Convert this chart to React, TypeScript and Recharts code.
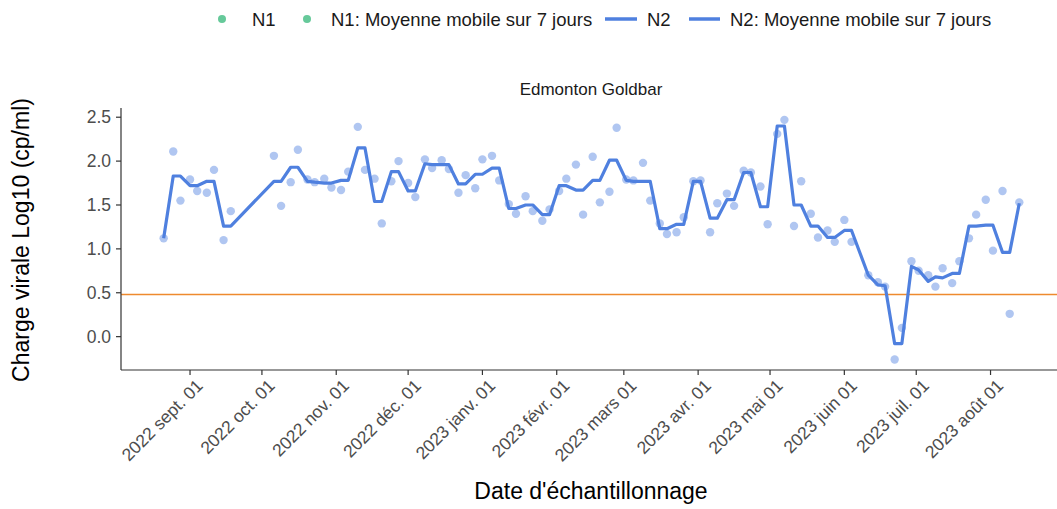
import React from "react";
import {
  ComposedChart,
  Line,
  Scatter,
  XAxis,
  YAxis,
  ReferenceLine,
} from "recharts";

// sample dates (N2, Edmonton Goldbar)
const sampleDates = [
  "2022-08-21", "2022-08-25", "2022-08-28", "2022-09-01", "2022-09-04", "2022-09-08", "2022-09-11", "2022-09-15", "2022-09-18",
  "2022-10-06", "2022-10-09", "2022-10-13", "2022-10-16", "2022-10-20", "2022-10-23", "2022-10-27", "2022-10-30",
  "2022-11-03", "2022-11-06", "2022-11-10", "2022-11-13", "2022-11-17", "2022-11-20", "2022-11-24", "2022-11-27",
  "2022-12-01", "2022-12-04", "2022-12-08", "2022-12-11", "2022-12-15", "2022-12-18", "2022-12-22", "2022-12-25", "2022-12-29",
  "2023-01-01", "2023-01-05", "2023-01-08", "2023-01-12", "2023-01-15", "2023-01-19", "2023-01-22", "2023-01-26", "2023-01-29",
  "2023-02-02", "2023-02-05", "2023-02-09", "2023-02-12", "2023-02-16", "2023-02-19", "2023-02-23", "2023-02-26",
  "2023-03-02", "2023-03-05", "2023-03-09", "2023-03-12", "2023-03-16", "2023-03-19", "2023-03-23", "2023-03-26", "2023-03-30",
  "2023-04-02", "2023-04-06", "2023-04-09", "2023-04-13", "2023-04-16", "2023-04-20", "2023-04-23", "2023-04-27", "2023-04-30",
  "2023-05-04", "2023-05-07", "2023-05-11", "2023-05-14", "2023-05-18", "2023-05-21", "2023-05-25", "2023-05-28",
  "2023-06-01", "2023-06-04", "2023-06-11", "2023-06-15", "2023-06-18", "2023-06-22", "2023-06-25", "2023-06-29",
  "2023-07-02", "2023-07-06", "2023-07-09", "2023-07-12", "2023-07-16", "2023-07-19", "2023-07-23", "2023-07-26", "2023-07-30",
  "2023-08-02", "2023-08-06", "2023-08-09", "2023-08-13",
];

const n2Values = [
  1.12, 2.11, 1.55, 1.79, 1.66, 1.64, 1.90, 1.10, 1.43,
  2.06, 1.49, 1.76, 2.13, 1.79, 1.76, 1.80, 1.70,
  1.67, 1.88, 2.39, 1.90, 1.80, 1.29, 1.77, 2.00,
  1.75, 1.59, 2.02, 1.92, 2.01, 1.91, 1.64, 1.84, 1.69,
  2.02, 2.06, 1.78, 1.51, 1.40, 1.60, 1.43, 1.32, 1.45,
  1.66, 1.80, 1.96, 1.39, 2.05, 1.53, 1.65, 2.38,
  1.79, 1.78, 1.98, 1.55, 1.29, 1.17, 1.19, 1.36, 1.77,
  1.78, 1.19, 1.52, 1.63, 1.49, 1.89, 1.87, 1.71, 1.28,
  2.31, 2.47, 1.26, 1.77, 1.40, 1.13, 1.21, 1.08,
  1.33, 1.08, 0.70, 0.62, 0.57, -0.26, 0.10, 0.86,
  0.75, 0.70, 0.57, 0.78, 0.61, 0.86, 1.12, 1.39, 1.56,
  0.98, 1.66, 0.26, 1.53,
];

const n2Avg = [
  1.12, 1.83, 1.83, 1.72, 1.72, 1.77, 1.77, 1.26, 1.26,
  1.77, 1.77, 1.93, 1.93, 1.77, 1.76, 1.75, 1.75,
  1.78, 1.78, 2.15, 2.15, 1.54, 1.54, 1.88, 1.88,
  1.66, 1.66, 1.97, 1.96, 1.96, 1.96, 1.74, 1.74, 1.85,
  1.85, 1.92, 1.92, 1.46, 1.46, 1.50, 1.50, 1.39, 1.39,
  1.72, 1.72, 1.67, 1.67, 1.78, 1.78, 2.01, 2.01,
  1.78, 1.77, 1.77, 1.77, 1.23, 1.23, 1.28, 1.28, 1.77,
  1.77, 1.35, 1.35, 1.56, 1.56, 1.87, 1.87, 1.48, 1.48,
  2.40, 2.40, 1.50, 1.50, 1.26, 1.26, 1.13, 1.13,
  1.21, 1.21, 0.70, 0.59, 0.58, -0.08, -0.08, 0.80,
  0.76, 0.63, 0.68, 0.67, 0.72, 0.72, 1.26, 1.26, 1.27,
  1.27, 0.96, 0.96, 1.52,
];

const threshold = 0.48;

const monthTicks = [
  "2022-09-01", "2022-10-01", "2022-11-01", "2022-12-01", "2023-01-01", "2023-02-01",
  "2023-03-01", "2023-04-01", "2023-05-01", "2023-06-01", "2023-07-01", "2023-08-01",
];
const monthLabels = [
  "2022 sept. 01", "2022 oct. 01", "2022 nov. 01", "2022 déc. 01", "2023 janv. 01", "2023 févr. 01",
  "2023 mars 01", "2023 avr. 01", "2023 mai 01", "2023 juin 01", "2023 juil. 01", "2023 août 01",
];
const yTicks = [0, 0.5, 1, 1.5, 2, 2.5];

const DAY = 86400000;
const origin = Date.parse("2022-09-01");
const xDomain = [origin - 28.8 * DAY, origin + 363.4 * DAY];

const BLUE = "#4f80df";
const GREEN = "#66c99a";
const ORANGE = "#ee8a2e";
const FONT = "'Liberation Sans', Arial, sans-serif";

const chartData = sampleDates.map((d, i) => ({
  t: Date.parse(d),
  n2: n2Values[i],
  avg: n2Avg[i],
}));

const tickTimes = monthTicks.map((d) => Date.parse(d));

function XTick(props: any) {
  const { x, y, payload } = props;
  const idx = tickTimes.indexOf(payload.value);
  return (
    <g transform={`translate(${x + 5},${y + 1})`}>
      <text
        transform="rotate(-45)"
        textAnchor="end"
        dy="0.72em"
        fill="#4d4d4d"
        fontSize={17.5}
        fontFamily={FONT}
      >
        {monthLabels[idx] ?? ""}
      </text>
    </g>
  );
}

function Dot(props: any) {
  const { cx, cy } = props;
  if (cx == null || cy == null) return null;
  return <circle cx={cx} cy={cy} r={4.2} fill={BLUE} fillOpacity={0.45} />;
}

export default function App() {
  return (
    <div
      style={{
        position: "absolute",
        left: 0,
        top: 0,
        width: 1057,
        height: 509,
        overflow: "hidden",
        background: "#fff",
        fontFamily: FONT,
      }}
    >
      {/* legend */}
      <svg width={1057} height={40} style={{ position: "absolute", left: 0, top: 0 }}>
        <circle cx={222} cy={19} r={4} fill={GREEN} />
        <text x={252} y={25.5} fontSize={18.5} fill="#1a1a1a" fontFamily={FONT}>N1</text>
        <circle cx={307} cy={19} r={4} fill={GREEN} />
        <text x={331} y={25.5} fontSize={18.5} fill="#1a1a1a" fontFamily={FONT}>N1: Moyenne mobile sur 7 jours</text>
        <line x1={605} x2={637} y1={19} y2={19} stroke={BLUE} strokeWidth={3.5} />
        <text x={647} y={25.5} fontSize={18.5} fill="#1a1a1a" fontFamily={FONT}>N2</text>
        <line x1={689} x2={720} y1={19} y2={19} stroke={BLUE} strokeWidth={3.5} />
        <text x={730} y={25.5} fontSize={18.5} fill="#1a1a1a" fontFamily={FONT}>N2: Moyenne mobile sur 7 jours</text>
      </svg>

      {/* facet strip */}
      <div
        style={{
          position: "absolute",
          left: 121,
          width: 940,
          top: 80,
          textAlign: "center",
          fontSize: 17,
          color: "#1a1a1a",
        }}
      >
        Edmonton Goldbar
      </div>

      {/* y title */}
      <div
        style={{
          position: "absolute",
          left: 21,
          top: 240,
          transform: "translate(-50%, -50%) rotate(-90deg)",
          whiteSpace: "nowrap",
          fontSize: 23,
          color: "#000",
        }}
      >
        Charge virale Log10 (cp/ml)
      </div>

      {/* x title */}
      <div
        style={{
          position: "absolute",
          left: 121,
          width: 940,
          top: 478,
          textAlign: "center",
          fontSize: 23,
          color: "#000",
        }}
      >
        Date d'échantillonnage
      </div>

      <div style={{ position: "absolute", left: 0, top: 0 }}>
        <ComposedChart
          width={1070}
          height={509}
          data={chartData}
          margin={{ top: 108, right: 9, bottom: 0, left: 0 }}
        >
          <XAxis
            dataKey="t"
            type="number"
            domain={xDomain}
            ticks={tickTimes}
            allowDataOverflow
            height={139}
            interval={0}
            tick={<XTick />}
            tickSize={5}
            axisLine={{ stroke: "#333", strokeWidth: 1.2 }}
            tickLine={{ stroke: "#333", strokeWidth: 1.2 }}
          />
          <XAxis
            xAxisId="top"
            orientation="top"
            dataKey="t"
            type="number"
            domain={xDomain}
            allowDataOverflow
            height={0}
            tick={false}
            tickLine={false}
            axisLine={{ stroke: "#8a8a8a", strokeWidth: 1 }}
          />
          <YAxis
            type="number"
            domain={[-0.38, 2.605]}
            ticks={yTicks}
            allowDataOverflow
            width={121}
            tickSize={5}
            tickMargin={5}
            tickFormatter={(v: number) => v.toFixed(1)}
            tick={{ fill: "#4d4d4d", fontSize: 17.5, fontFamily: FONT }}
            axisLine={{ stroke: "#333", strokeWidth: 1.2 }}
            tickLine={{ stroke: "#333", strokeWidth: 1.2 }}
          />
          <ReferenceLine y={threshold} stroke={ORANGE} strokeWidth={1.5} />
          <Scatter dataKey="n2" shape={<Dot />} isAnimationActive={false} />
          <Line
            dataKey="avg"
            type="linear"
            stroke={BLUE}
            strokeWidth={3.2}
            strokeLinejoin="round"
            dot={false}
            activeDot={false}
            isAnimationActive={false}
          />
        </ComposedChart>
      </div>
    </div>
  );
}
